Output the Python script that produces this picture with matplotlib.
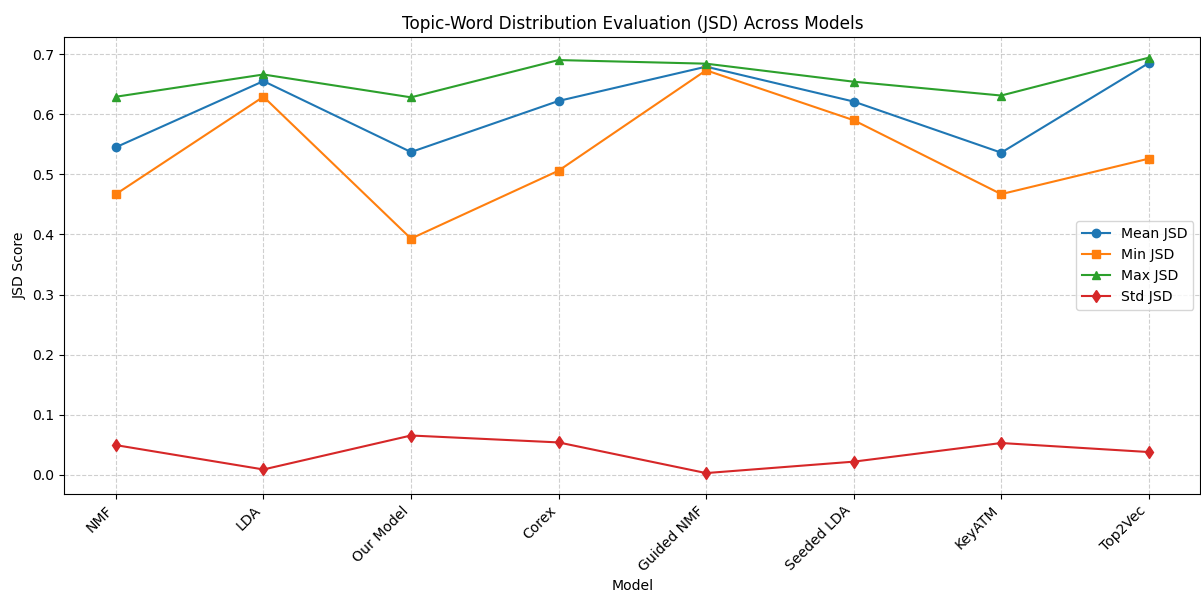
import matplotlib
matplotlib.use("Agg")
import matplotlib.pyplot as plt

models = ["NMF", "LDA", "Our Model", "Corex", "Guided NMF", "Seeded LDA", "KeyATM", "Top2Vec"]
mean_jsd = [0.545, 0.655, 0.537, 0.622, 0.679, 0.621, 0.536, 0.685]
min_jsd = [0.467, 0.629, 0.393, 0.506, 0.673, 0.590, 0.467, 0.526]
max_jsd = [0.629, 0.666, 0.628, 0.690, 0.684, 0.654, 0.631, 0.694]
std_jsd = [0.0495, 0.009, 0.0655, 0.054, 0.003, 0.022, 0.053, 0.038]

plt.rcParams["font.size"] = 10.1
fig, ax = plt.subplots(figsize=(12.01, 5.95), dpi=100)
ax.plot(models, mean_jsd, marker="o", label="Mean JSD")
ax.plot(models, min_jsd, marker="s", label="Min JSD")
ax.plot(models, max_jsd, marker="^", label="Max JSD")
ax.plot(models, std_jsd, marker="d", label="Std JSD")
ax.set_title("Topic-Word Distribution Evaluation (JSD) Across Models", fontsize=12.2)
ax.set_xlabel("Model")
ax.set_ylabel("JSD Score")
plt.xticks(rotation=45, ha="right")
ax.grid(True, linestyle="--", alpha=0.6)
ax.legend(loc="center right")
fig.subplots_adjust(left=0.0535, right=0.9995, top=0.938, bottom=0.17)
fig.savefig("out.png", dpi=100)
